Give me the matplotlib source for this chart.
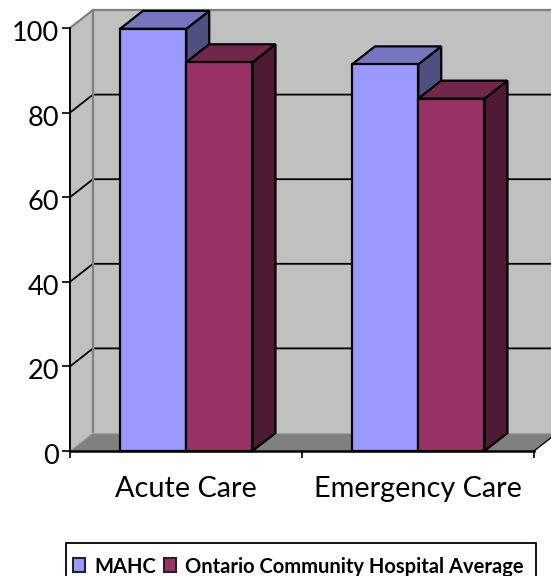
import matplotlib
matplotlib.use('Agg')
import matplotlib.pyplot as plt
from matplotlib.patches import Polygon, Rectangle
from matplotlib.transforms import ScaledTranslation

categories = ['Acute Care', 'Emergency Care']
series_names = ['MAHC', 'Ontario Community Hospital Average']
mahc = [99.8, 91.4]
ontario = [91.9, 83.3]
y_ticks = [0, 20, 40, 60, 80, 100]

colors = ['#9999FF', '#993366']
tops = ['#7575C0', '#72264C']
sides = ['#4F4F80', '#4D1933']

W, H = 551, 576
plt.rcParams['font.family'] = ['Lato', 'DejaVu Sans']

fig = plt.figure(figsize=(W / 100, H / 100), dpi=100)
ax = fig.add_axes([70 / W, 1 - 451 / H, 464 / W, 423 / H])
ax.set_xlim(0, 2)
ax.set_ylim(0, 100)
ax.patch.set_visible(False)
for s in ax.spines.values():
    s.set_visible(False)

# profundidad del efecto 3D, en unidades de datos
dx = 23 / 232
dy = 18 / 4.23
bar_w = 0.2855
start = 0.2155


def poly(pts, fc, ec='none', lw=0, z=1):
    ax.add_patch(Polygon(pts, closed=True, fc=fc, ec=ec, lw=lw, zorder=z,
                         clip_on=False, joinstyle='miter'))


# paredes y piso
poly([(dx, dy), (2 + dx, dy), (2 + dx, 100 + dy), (dx, 100 + dy)], '#C0C0C0')
poly([(0, 0), (dx, dy), (dx, 100 + dy), (0, 100)], '#C0C0C0')
poly([(0, 0), (2, 0), (2 + dx, dy), (dx, dy)], '#808080')

# rejilla
for v in y_ticks[1:-1]:
    ax.plot([0, dx, 2 + dx], [v, v + dy, v + dy], color='black', lw=1.3, zorder=2, clip_on=False)
ax.plot([0, dx, 2 + dx], [100, 100 + dy, 100 + dy], color='#808080', lw=1.6, zorder=2, clip_on=False)
ax.plot([dx, dx], [dy, 100 + dy], color='#808080', lw=1.6, zorder=2, clip_on=False)
ax.plot([dx, 2 + dx], [dy, dy], color='#A0A0A0', lw=0.8, zorder=2, clip_on=False)
ax.plot([0, dx], [0, dy], color='#A0A0A0', lw=0.8, zorder=2, clip_on=False)
ax.plot([2, 2 + dx], [0, dy], color='black', lw=1.0, zorder=2, clip_on=False)

# barras
z = 3
for i in range(len(categories)):
    for j, vals in enumerate([mahc, ontario]):
        x0 = i + start + j * bar_w
        x1 = x0 + bar_w
        v = vals[i]
        poly([(x1, 0), (x1 + dx, dy), (x1 + dx, v + dy), (x1, v)], sides[j], 'black', 1.6, z)
        poly([(x0, v), (x1, v), (x1 + dx, v + dy), (x0 + dx, v + dy)], tops[j], 'black', 1.6, z)
        poly([(x0, 0), (x1, 0), (x1, v), (x0, v)], colors[j], 'black', 1.6, z)
        z += 1

# ejes
ax.plot([0, 0], [0, 100], color='black', lw=1.4, zorder=10, clip_on=False)
ax.plot([0, 2], [0, 0], color='black', lw=1.8, zorder=10, clip_on=False)
ax.set_yticks(y_ticks)
ax.set_xticks([0, 1, 2])
ax.set_xticklabels([])
ax.tick_params(axis='y', length=6, width=1.2, pad=2, labelsize=19.5)
ax.tick_params(axis='x', length=5, width=1.2)
# las etiquetas de y quedan un poco por debajo de su marca
shift = ScaledTranslation(0, -3 / 100, fig.dpi_scale_trans)
for lab in ax.get_yticklabels():
    lab.set_transform(lab.get_transform() + shift)
for i, c in enumerate(categories):
    ax.text(i + 0.5, -9.0, c, ha='center', va='center', fontsize=20.8, color='black')

# leyenda
fig.add_artist(Rectangle((65.5 / W, 1 - 590 / H), 470 / W, 47 / H, transform=fig.transFigure,
                         fc='white', ec='black', lw=1.3))
for x, name, c in zip([73, 164], series_names, colors):
    fig.add_artist(Rectangle((x / W, 1 - 572 / H), 12 / W, 14 / H, transform=fig.transFigure,
                             fc=c, ec='#222222', lw=1.5))
    fig.text((x + 21) / W, 1 - 567 / H, name, ha='left', va='center', fontsize=14.5,
             fontweight='bold', color='black')

fig.savefig('out.png', dpi=100)
